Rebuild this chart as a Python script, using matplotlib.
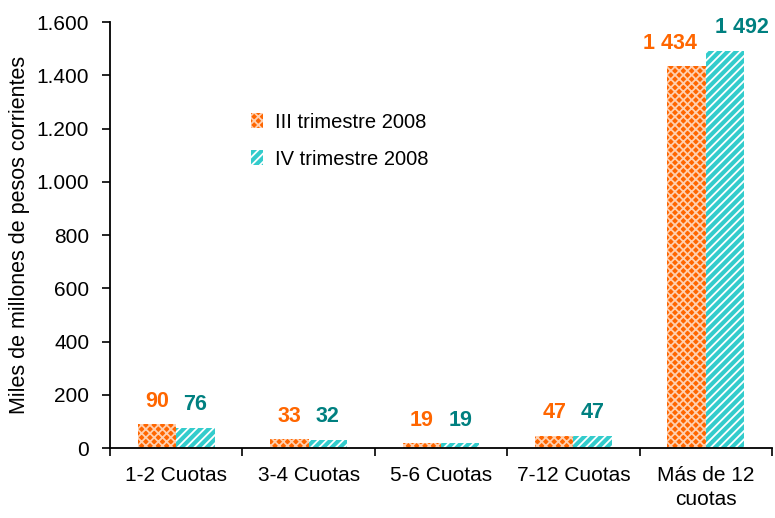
import numpy as np
import matplotlib
matplotlib.use('Agg')
import matplotlib.pyplot as plt
from matplotlib.ticker import FuncFormatter, FixedLocator

# datos
categorias = ['1-2 Cuotas', '3-4 Cuotas', '5-6 Cuotas', '7-12 Cuotas', 'Más de 12\ncuotas']
trim_iii = [90, 33, 19, 47, 1434]
trim_iv = [76, 32, 19, 47, 1492]
series = ['III trimestre 2008', 'IV trimestre 2008']

plt.rcParams['font.family'] = ['Liberation Sans', 'DejaVu Sans']
plt.rcParams['hatch.linewidth'] = 1.3

C_NAR = '#FF6600'; C_TUR = '#33CCCC'
C_NAR_TXT = '#FF6600'; C_TUR_TXT = '#008080'

fig = plt.figure(figsize=(7.75, 5.18), dpi=100)
ax = fig.add_axes([0.142, 0.135, 0.854, 0.8225])

x = np.arange(len(categorias))
w = 0.29
b1 = ax.bar(x - w/2, trim_iii, w, color=C_NAR, edgecolor='#FFD0B0', hatch='xxxx', lw=0, label=series[0])
b2 = ax.bar(x + w/2, trim_iv, w, color=C_TUR, edgecolor='white', hatch='////', lw=0, label=series[1])

def fmt_lbl(v):
    return f'{v:,}'.replace(',', ' ')

# etiquetas; las de 4 cifras se separan hacia fuera para que no se pisen
for bars, vals, col, sgn in ((b1, trim_iii, C_NAR_TXT, -1), (b2, trim_iv, C_TUR_TXT, 1)):
    for r, v in zip(bars, vals):
        dx = sgn * 12 if v >= 1000 else 0
        ax.annotate(fmt_lbl(v), (r.get_x() + r.get_width()/2, v), xytext=(dx, 9),
                    textcoords='offset points', ha='center', va='bottom',
                    fontsize=15.5, fontweight='bold', color=col)

ax.set_ylim(0, 1600)
ax.set_xlim(-0.5, len(categorias) - 0.5)
ax.set_yticks(np.arange(0, 1601, 200))
ax.yaxis.set_major_formatter(FuncFormatter(lambda v, p: f'{int(v):,}'.replace(',', '.')))
ax.set_ylabel('Miles de millones de pesos corrientes', fontsize=15.5, labelpad=5)

ax.set_xticks(x)
ax.set_xticklabels(categorias, linespacing=1.35)
ax.xaxis.set_minor_locator(FixedLocator(np.arange(-0.5, len(categorias), 1.0)))
ax.tick_params(axis='x', which='major', length=0, pad=13, labelsize=15)
ax.tick_params(axis='x', which='minor', length=6, direction='out', width=1.2)
ax.tick_params(axis='y', length=6, direction='out', labelsize=15, width=1.2, pad=9)

for s in ('top', 'right'):
    ax.spines[s].set_visible(False)
for s in ('left', 'bottom'):
    ax.spines[s].set_linewidth(1.3)

ax.legend(loc='upper left', bbox_to_anchor=(0.186, 0.83), frameon=False, fontsize=14.5,
          handlelength=0.6, handleheight=0.8, handletextpad=0.6, labelspacing=0.9)

fig.savefig('out.png', dpi=100)
